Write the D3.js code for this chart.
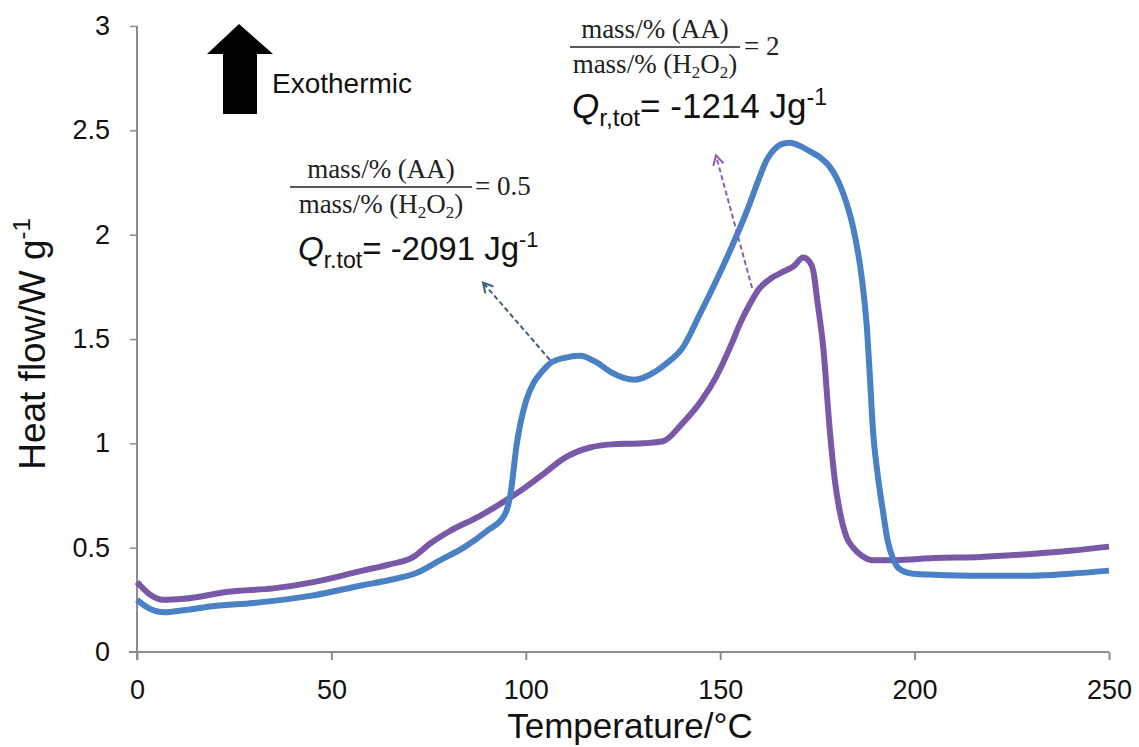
<!DOCTYPE html>
<html>
<head>
<meta charset="utf-8">
<script src="https://cdn.jsdelivr.net/npm/d3@7"></script>
<style>
html,body{margin:0;padding:0;background:#fff;}
svg{display:block;}
</style>
</head>
<body>
<script>
// ---- data ----
const xTicks = [0, 50, 100, 150, 200, 250];
const yTicks = [0, 0.5, 1, 1.5, 2, 2.5, 3];
const yTickLabels = ["0", "0.5", "1", "1.5", "2", "2.5", "3"];

// ratio 0.5 (blue)
const blueT = [0,3,7,12,20,30,45,58,65,72,78,84,90,94.5,96,97.7,100,102,104,106,110,114,118,122,125,128,132,136,140.4,144.8,149,153.4,157,160,162,164,166,168,170,173,175.7,178,180,181.6,183,184,185,186,187,187.7,188.5,189.3,190.5,191.9,193,194.4,196,199.6,205,217,230,240,250];
const blueV = [0.25,0.21,0.19,0.2,0.22,0.235,0.27,0.32,0.345,0.38,0.44,0.5,0.58,0.655,0.75,1.0,1.2,1.29,1.34,1.38,1.41,1.42,1.39,1.34,1.315,1.305,1.33,1.38,1.46,1.62,1.78,1.96,2.12,2.27,2.36,2.41,2.435,2.44,2.43,2.4,2.37,2.33,2.27,2.2,2.12,2.05,1.96,1.85,1.7,1.56,1.32,1.06,0.85,0.67,0.54,0.45,0.4,0.375,0.37,0.365,0.365,0.375,0.39];

// ratio 2 (purple)
const purpleT = [0,3,6.8,12,24,35,45.4,58,65,71,75.4,80.5,88,96,100,105,110,116.5,122,130,135.3,140,145,149,153,155,157.7,160,163,166,169,171.3,173,173.9,175,176.5,178.2,179.5,180.8,182.5,184.2,186.5,189.3,195,205,217,230,240,250];
const purpleV = [0.335,0.28,0.25,0.255,0.29,0.305,0.335,0.39,0.42,0.455,0.52,0.58,0.65,0.74,0.79,0.86,0.93,0.98,0.995,1.0,1.01,1.09,1.2,1.32,1.48,1.57,1.67,1.74,1.79,1.82,1.85,1.89,1.87,1.83,1.68,1.46,1.06,0.82,0.67,0.55,0.5,0.46,0.44,0.44,0.45,0.455,0.47,0.485,0.505];

// annotation arrows (data coords: [T, value])
const blueArrow = [[106.2, 1.40], [89.0, 1.77]];
const purpleArrow = [[158.2, 1.744], [148.9, 2.38]];

// ---- layout ----
const W = 1139, H = 747;
const x = d3.scaleLinear().domain([0, 250]).range([137, 1109]);
const y = d3.scaleLinear().domain([0, 3]).range([652, 26]);

const svg = d3.select("body").append("svg").attr("width", W).attr("height", H);

const axisColor = "#8c8c8c";
const sans = "Liberation Sans, Arial, sans-serif";
const serif = "Liberation Serif, Times New Roman, serif";

// axes
const gx = svg.append("g").attr("transform", `translate(0,${y(0)})`)
  .call(d3.axisBottom(x).tickValues(xTicks).tickSize(8).tickPadding(19).tickFormat(d3.format("d")));
gx.select(".domain").attr("stroke", axisColor).attr("stroke-width", 2).attr("d", `M${x(0)-8},0H${x(250)}`);
gx.selectAll(".tick line").attr("stroke", axisColor).attr("stroke-width", 2);
gx.selectAll(".tick text").attr("font-family", sans).attr("font-size", 27).attr("fill", "#111").attr("dy", "0.75em");

const gy = svg.append("g").attr("transform", `translate(${x(0)},0)`)
  .call(d3.axisLeft(y).tickValues(yTicks).tickSize(7).tickPadding(20).tickFormat((d,i) => yTickLabels[i]));
gy.select(".domain").attr("stroke", axisColor).attr("stroke-width", 2).attr("d", `M0,${y(3)}V${y(0)+8}`);
gy.selectAll(".tick line").attr("stroke", axisColor).attr("stroke-width", 1.5);
gy.selectAll(".tick").filter(d => d === 0).select("line").remove();
gy.selectAll(".tick text").attr("font-family", sans).attr("font-size", 27).attr("fill", "#111");

// axis titles
svg.append("text").attr("x", 630).attr("y", 738).attr("text-anchor", "middle")
  .attr("font-family", sans).attr("font-size", 35).attr("fill", "#111").text("Temperature/°C");

const yt = svg.append("text").attr("transform", "translate(45,344) rotate(-90)").attr("text-anchor", "middle")
  .attr("font-family", sans).attr("font-size", 37).attr("fill", "#111");
yt.append("tspan").text("Heat flow/W g");
yt.append("tspan").attr("font-size", 24).attr("dy", -15).text("-1");

// lines
const line = d3.line().x(d => x(d[0])).y(d => y(d[1])).curve(d3.curveMonotoneX);
const purpleData = purpleT.map((t, i) => [t, purpleV[i]]);
const blueData = blueT.map((t, i) => [t, blueV[i]]);

svg.append("path").datum(purpleData).attr("d", line).attr("fill", "none")
  .attr("stroke", "#7a58a8").attr("stroke-width", 6).attr("stroke-linejoin", "round");
svg.append("path").datum(blueData).attr("d", line).attr("fill", "none")
  .attr("stroke", "#4a80c4").attr("stroke-width", 6).attr("stroke-linejoin", "round");

// dashed arrows
function arrow(pts, color) {
  const [p0, p1] = pts.map(p => [x(p[0]), y(p[1])]);
  svg.append("line").attr("x1", p0[0]).attr("y1", p0[1]).attr("x2", p1[0]).attr("y2", p1[1])
    .attr("stroke", color).attr("stroke-width", 2).attr("stroke-dasharray", "5,3");
  const ang = Math.atan2(p1[1] - p0[1], p1[0] - p0[0]);
  const L = 11, a = 0.5;
  const pA = [p1[0] - L * Math.cos(ang - a), p1[1] - L * Math.sin(ang - a)];
  const pB = [p1[0] - L * Math.cos(ang + a), p1[1] - L * Math.sin(ang + a)];
  svg.append("path").attr("d", `M${pA[0]},${pA[1]}L${p1[0]},${p1[1]}L${pB[0]},${pB[1]}`)
    .attr("fill", "none").attr("stroke", color).attr("stroke-width", 2);
}
arrow(blueArrow, "#3a5e8c");
arrow(purpleArrow, "#8a5cb8");

// block arrow "Exothermic"
svg.append("path").attr("d", "M207,54 L239,24 L273,54 L257,54 L257,114 L223,114 L223,54 Z").attr("fill", "#000");
svg.append("text").attr("x", 272).attr("y", 93).attr("font-family", sans).attr("font-size", 28)
  .attr("fill", "#111").text("Exothermic");

// fraction annotations
function fraction(cx, lineY, x0, x1, value, eqX) {
  svg.append("text").attr("x", cx).attr("y", lineY - 9).attr("text-anchor", "middle")
    .attr("font-family", serif).attr("font-size", 27).attr("fill", "#222").text("mass/% (AA)");
  svg.append("line").attr("x1", x0).attr("x2", x1).attr("y1", lineY).attr("y2", lineY)
    .attr("stroke", "#222").attr("stroke-width", 1.5);
  const b = svg.append("text").attr("x", cx).attr("y", lineY + 26).attr("text-anchor", "middle")
    .attr("font-family", serif).attr("font-size", 27).attr("fill", "#222");
  b.append("tspan").text("mass/% (H");
  b.append("tspan").attr("font-size", 17).attr("dy", 5).text("2");
  b.append("tspan").attr("dy", -5).text("O");
  b.append("tspan").attr("font-size", 17).attr("dy", 5).text("2");
  b.append("tspan").attr("dy", -5).text(")");
  svg.append("text").attr("x", eqX).attr("y", lineY + 8).attr("font-family", serif).attr("font-size", 27)
    .attr("fill", "#222").text("= " + value);
}
fraction(381, 187, 290, 472, "0.5", 475);
fraction(655, 47, 570, 740, "2", 744);

function qText(x0, y0, sub, val, fs) {
  const t = svg.append("text").attr("x", x0).attr("y", y0).attr("font-family", sans).attr("font-size", fs).attr("fill", "#111");
  t.append("tspan").attr("font-style", "italic").text("Q");
  t.append("tspan").attr("font-size", fs * 0.7).attr("dy", 8).text(sub);
  t.append("tspan").attr("dy", -8).text("= " + val + " Jg");
  t.append("tspan").attr("font-size", fs * 0.66).attr("dy", -13).text("-1");
}
qText(298, 260, "r.tot", "-2091", 33);
qText(572, 118, "r,tot", "-1214", 35);
</script>
</body>
</html>
